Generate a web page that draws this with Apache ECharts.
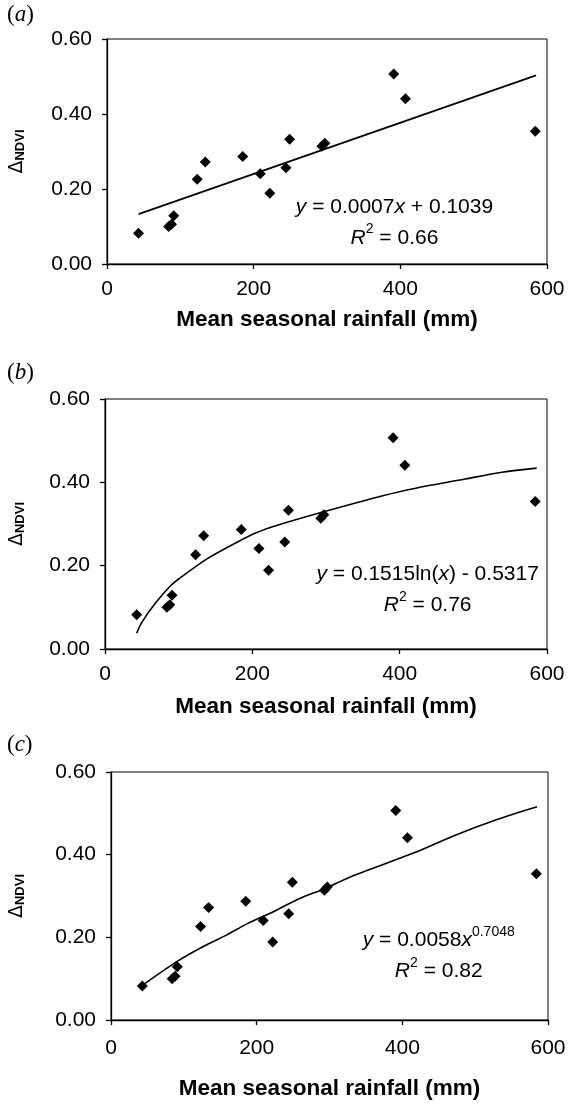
<!DOCTYPE html>
<html>
<head>
<meta charset="utf-8">
<script src="https://cdn.jsdelivr.net/npm/echarts@6/dist/echarts.min.js"></script>
<style>
html,body{margin:0;padding:0;background:#fff;}
#chart{width:569px;height:1104px;}
</style>
</head>
<body>
<div id="chart"></div>
<script>
// ---- data ----
const rainfall  = [43, 84, 88, 91, 123, 134, 185, 209, 222, 244, 249, 293, 297, 391, 407, 584];
const deltaNdvi = [0.082, 0.100, 0.106, 0.129, 0.226, 0.272, 0.287, 0.241, 0.189, 0.257, 0.333, 0.314, 0.322, 0.507, 0.441, 0.354];

// (a) linear trend line end points
const linX = [43, 585];
const linY = [0.133, 0.503];
// (b) logarithmic trend curve
const logX = [43, 50, 68, 88, 100, 140, 180, 207, 234, 292, 377, 422, 489, 539, 586];
const logY = [0.038, 0.064, 0.109, 0.150, 0.168, 0.218, 0.257, 0.280, 0.297, 0.327, 0.368, 0.386, 0.408, 0.424, 0.434];
// (c) power trend curve
const powX = [44, 92, 128, 159, 186, 223, 259, 295, 327, 417, 471, 530, 585];
const powY = [0.085, 0.143, 0.179, 0.206, 0.232, 0.262, 0.294, 0.319, 0.345, 0.405, 0.446, 0.485, 0.516];

const xTicks = [0, 200, 400, 600];
const yTicks = [0.00, 0.20, 0.40, 0.60];
const panelLetters = ['a', 'b', 'c'];
const xTitle = 'Mean seasonal rainfall (mm)';
const yTitleMain = 'Δ';
const yTitleSub = 'NDVI';
const eqLine1 = [
  '{i|y} = 0.0007{i|x} + 0.1039',
  '{i|y} = 0.1515ln({i|x}) - 0.5317',
  '{i|y} = 0.0058{i|x}{sup|0.7048}'
];
const eqLine2 = [
  '{i|R}{sup|2} = 0.66',
  '{i|R}{sup|2} = 0.76',
  '{i|R}{sup|2} = 0.82'
];
// anchor of each equation block (data units)
const eqAnchorX = [392, 438, 450];
const eqAnchorY = [0.111, 0.142, 0.155];

// ---- layout ----
const SANS = '"Liberation Sans", Arial, sans-serif';
const SERIF = '"Liberation Serif", "Times New Roman", serif';
const grids = [
  {left: 103, right: 22, top: 39, height: 225},
  {left: 101, right: 22, top: 399, height: 250},
  {left: 107, right: 21, top: 772, height: 248}
];
const xNameGap = [44, 46, 57];
const xLabelMargin = [15, 15, 18];
const yNameGap = [80, 78, 84];
const letterTop = [3, 361, 733];

const chart = echarts.init(document.getElementById('chart'), null, {renderer: 'canvas'});

const xAxes = [], yAxes = [], series = [], graphic = [];
for (let i = 0; i < 3; i++) {
  xAxes.push({
    type: 'value', gridIndex: i, min: xTicks[0], max: xTicks[xTicks.length - 1], interval: 200,
    axisLine: {show: true, onZero: false, lineStyle: {color: '#000', width: 1.3}},
    axisTick: {show: true, length: 5, lineStyle: {color: '#000', width: 1.3}},
    axisLabel: {color: '#000', fontSize: 21, fontFamily: SANS, margin: xLabelMargin[i],
      formatter: v => String(v)},
    splitLine: {show: false},
    name: xTitle, nameLocation: 'middle', nameGap: xNameGap[i],
    nameTextStyle: {color: '#000', fontSize: 22.5, fontWeight: 'bold', fontFamily: SANS}
  });
  yAxes.push({
    type: 'value', gridIndex: i, min: yTicks[0], max: yTicks[yTicks.length - 1], interval: 0.2,
    axisLine: {show: true, onZero: false, lineStyle: {color: '#000', width: 1.3}},
    axisTick: {show: true, length: 5, lineStyle: {color: '#000', width: 1.3}},
    axisLabel: {color: '#000', fontSize: 21, fontFamily: SANS, margin: 15,
      formatter: v => v.toFixed(2)},
    splitLine: {show: false},
    name: '{d|' + yTitleMain + '}{s|' + yTitleSub + '}',
    nameLocation: 'middle', nameGap: yNameGap[i], nameRotate: 90,
    nameTextStyle: {
      color: '#000',
      rich: {
        d: {fontSize: 19, fontFamily: '"DejaVu Sans", sans-serif', color: '#000', verticalAlign: 'bottom'},
        s: {fontSize: 13, fontWeight: 'bold', fontFamily: SANS, color: '#000', verticalAlign: 'bottom'}
      }
    }
  });
  series.push({
    type: 'scatter', xAxisIndex: i, yAxisIndex: i,
    data: rainfall.map((x, k) => [x, deltaNdvi[k]]),
    symbol: 'diamond', symbolSize: [11, 11],
    itemStyle: {color: '#000', opacity: 1}, z: 3, silent: true
  });
  graphic.push({
    type: 'text', left: 7, top: letterTop[i],
    style: {
      text: '({i|' + panelLetters[i] + '})',
      font: '23px ' + SERIF, fill: '#000',
      rich: {i: {font: 'italic 23px ' + SERIF, fill: '#000'}}
    }
  });
  series.push({
    type: 'scatter', xAxisIndex: i, yAxisIndex: i,
    data: [[eqAnchorX[i], eqAnchorY[i]]],
    symbolSize: 0, silent: true, z: 5,
    itemStyle: {color: '#000', opacity: 1},
    label: {
      show: true, position: 'inside', formatter: eqLine1[i] + '\n' + eqLine2[i],
      color: '#000', fontSize: 21, fontFamily: SANS, lineHeight: 31, align: 'center',
      textBorderWidth: 0, textBorderColor: 'transparent', opacity: 1,
      rich: {
        i: {fontStyle: 'italic', fontSize: 21, fontFamily: SANS, color: '#000', lineHeight: 31,
            textBorderWidth: 0},
        sup: {fontSize: 14, fontFamily: SANS, color: '#000', verticalAlign: 'top', lineHeight: 25,
            textBorderWidth: 0}
      }
    }
  });
}
const trendX = [linX, logX, powX];
const trendY = [linY, logY, powY];
for (let i = 0; i < 3; i++) {
  series.push({
    type: 'line', xAxisIndex: i, yAxisIndex: i,
    data: trendX[i].map((x, k) => [x, trendY[i][k]]),
    showSymbol: false, smooth: i === 0 ? false : 0.3,
    lineStyle: {color: '#000', width: 1.6}, z: 2, silent: true
  });
}

chart.setOption({
  animation: false,
  backgroundColor: '#fff',
  grid: grids.map(g => Object.assign({show: true, borderColor: '#000', borderWidth: 1, backgroundColor: 'transparent'}, g)),
  xAxis: xAxes,
  yAxis: yAxes,
  series: series,
  graphic: graphic
});
</script>
</body>
</html>
